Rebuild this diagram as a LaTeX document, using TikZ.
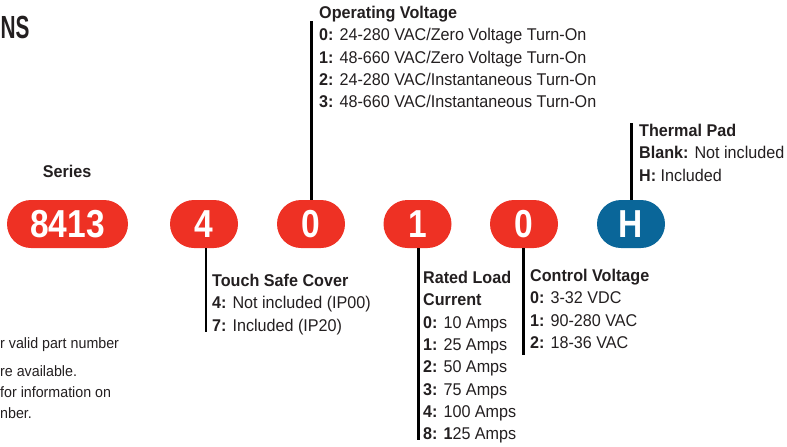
\documentclass[tikz,border=0pt]{standalone}
\usepackage{fontspec}
\setmainfont{Liberation Sans}[FakeStretch=0.95]
\newfontfamily\pillfont{Liberation Sans}[FakeStretch=0.86]
\newfontfamily\titlefont{Liberation Sans}[FakeStretch=0.65]
\definecolor{partred}{HTML}{EE3124}
\definecolor{partblue}{HTML}{0A6699}
\definecolor{partink}{HTML}{231F20}

\begin{document}
\begin{tikzpicture}[
  x=1pt,
  y=-1pt,
  every node/.style={inner sep=0pt, text=partink},
  pill/.style={fill=partred, rounded corners=24pt, minimum width=68pt,
    minimum height=48pt, text=white,
    font=\pillfont\bfseries\fontsize{39}{39}\selectfont},
  padpill/.style={pill, fill=partblue},
  leader/.style={draw=black, line width=2.6pt},
  optlist/.style={anchor=north west, align=left,
    font=\fontsize{17}{22.3}\selectfont},
  fineprint/.style={anchor=north west, align=left,
    font=\fontsize{15}{21}\selectfont}
]
  \clip (0,0) rectangle (787,447);

  \node[anchor=base west, font=\titlefont\bfseries\fontsize{32}{32}\selectfont]
    (title) at (0.5,38) {NS};

  % part number fields
  \node[pill, minimum width=121pt] (series) at (67.5,224) {8413};
  \node[pill] (cover) at (204,224) {4};
  \node[pill] (opvolt) at (311,224) {0};
  \node[pill] (current) at (417.5,224) {1};
  \node[pill] (ctrlvolt) at (524,224) {0};
  \node[padpill] (pad) at (631,224) {H};

  \node[font=\bfseries\fontsize{17}{17}\selectfont] (serieslbl) at (67,171) {Series};

  % option lists
  \node[optlist] (opvoltlist) at (319,6) {\textbf{Operating Voltage}\\
    \textbf{0:} 24-280 VAC/Zero Voltage Turn-On\\
    \textbf{1:} 48-660 VAC/Zero Voltage Turn-On\\
    \textbf{2:} 24-280 VAC/Instantaneous Turn-On\\
    \textbf{3:} 48-660 VAC/Instantaneous Turn-On};
  \node[optlist] (padlist) at (639,124) {\textbf{Thermal Pad}\\
    \textbf{Blank:} Not included\\
    \textbf{H:} Included};
  \node[optlist] (coverlist) at (212,274) {\textbf{Touch Safe Cover}\\
    \textbf{4:} Not included (IP00)\\
    \textbf{7:} Included (IP20)};
  \node[optlist] (currentlist) at (423,271) {\textbf{Rated Load}\\
    \textbf{Current}\\
    \textbf{0:} 10 Amps\\
    \textbf{1:} 25 Amps\\
    \textbf{2:} 50 Amps\\
    \textbf{3:} 75 Amps\\
    \textbf{4:} 100 Amps\\
    \textbf{8: 1}25 Amps};
  \node[optlist] (ctrlvoltlist) at (530,269) {\textbf{Control Voltage}\\
    \textbf{0:} 3-32 VDC\\
    \textbf{1:} 90-280 VAC\\
    \textbf{2:} 18-36 VAC};

  % leader lines
  \coordinate (opvoltend) at (311.7,21);
  \coordinate (padend) at (631.7,123);
  \coordinate (coverend) at (206,332);
  \coordinate (currentend) at (418.3,440);
  \coordinate (ctrlvoltend) at (523.3,355);
  \draw[leader] (opvolt.north -| opvoltend) -- (opvoltend);
  \draw[leader] (pad.north -| padend) -- (padend);
  \draw[leader] (cover.south -| coverend) -- (coverend);
  \draw[leader] (current.south -| currentend) -- (currentend);
  \draw[leader] (ctrlvolt.south -| ctrlvoltend) -- (ctrlvoltend);

  % notes, cut at the left edge
  \node[fineprint] (note1) at (0,337) {r valid part number};
  \node[fineprint] (note2) at (0,365) {re available.\\
    for information on\\
    nber.};
\end{tikzpicture}
\end{document}
